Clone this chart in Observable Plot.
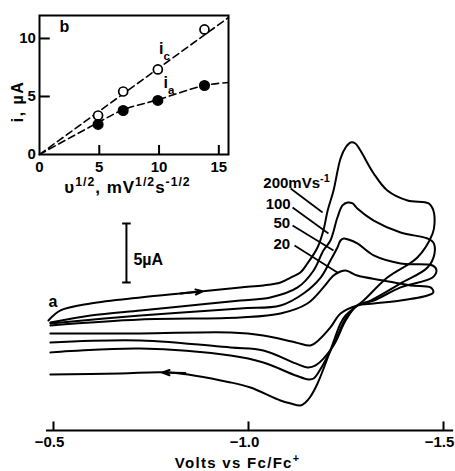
<!DOCTYPE html>
<html>
<head>
<meta charset="utf-8">
<script src="https://cdn.jsdelivr.net/npm/d3@7"></script>
<script src="https://cdn.jsdelivr.net/npm/@observablehq/plot@0.6"></script>
<style>
  html, body { margin: 0; padding: 0; background: white; }
  #wrap { position: relative; width: 455px; height: 471px; overflow: hidden; }
  #wrap svg { position: absolute; left: 0; top: 0; }
</style>
</head>
<body>
<div id="wrap"></div>
<script>
// ---------- DATA: cyclic voltammograms (potential V vs Fc/Fc+, current µA, arbitrary offset) ----------
const scanRates = ["20", "50", "100", "200mVs-1"];

const cv20 = [
  [-0.492,-0.42],[-0.723,0.08],[-0.979,0.25],[-1.082,0.59],[-1.151,1.44],[-1.192,2.80],
  [-1.218,3.81],[-1.236,4.15],[-1.249,4.24],[-1.262,4.07],[-1.279,3.81],[-1.346,3.39],
  [-1.415,2.97],[-1.467,2.80],[-1.474,2.37],[-1.459,2.12],[-1.390,1.69],[-1.321,1.44],
  [-1.279,1.27],[-1.236,0.59],[-1.210,-0.59],[-1.179,-1.69],[-1.159,-2.12],[-1.121,-1.86],
  [-1.038,-1.27],[-0.954,-1.02],[-0.723,-1.10],[-0.492,-1.10]
];
const cv50 = [
  [-0.492,-0.25],[-0.723,0.42],[-0.979,1.02],[-1.082,1.27],[-1.141,2.29],[-1.185,3.64],
  [-1.210,5.08],[-1.228,6.19],[-1.236,6.78],[-1.244,6.95],[-1.256,6.86],[-1.279,6.53],
  [-1.321,5.51],[-1.390,4.83],[-1.472,4.66],[-1.482,4.24],[-1.472,3.64],[-1.390,2.80],
  [-1.321,1.69],[-1.279,1.27],[-1.249,0.00],[-1.218,-2.12],[-1.172,-3.81],[-1.151,-3.98],
  [-1.121,-3.64],[-1.038,-2.54],[-0.954,-2.29],[-0.723,-1.69],[-0.492,-1.86]
];
const cv100 = [
  [-0.492,-0.17],[-0.595,0.42],[-0.723,0.85],[-0.851,1.27],[-0.979,1.69],[-1.056,1.95],
  [-1.126,2.80],[-1.167,4.24],[-1.192,5.93],[-1.210,6.78],[-1.228,8.73],[-1.241,9.75],
  [-1.254,10.00],[-1.267,9.92],[-1.279,9.49],[-1.321,8.47],[-1.390,7.46],[-1.459,6.95],
  [-1.474,6.61],[-1.477,5.68],[-1.459,4.49],[-1.390,3.14],[-1.313,1.69],[-1.279,1.27],
  [-1.249,0.17],[-1.223,-1.69],[-1.190,-3.81],[-1.167,-4.92],[-1.154,-5.00],[-1.121,-4.66],
  [-1.038,-3.56],[-0.954,-2.97],[-0.723,-2.37],[-0.492,-2.71]
];
const cv200 = [
  [-0.487,0.00],[-0.518,0.85],[-0.595,1.44],[-0.723,1.95],[-0.851,2.37],[-0.979,2.80],
  [-1.038,2.97],[-1.082,3.22],[-1.108,3.64],[-1.133,4.07],[-1.151,4.83],[-1.177,6.19],
  [-1.192,7.63],[-1.203,9.32],[-1.218,11.02],[-1.236,13.73],[-1.249,14.66],[-1.262,15.08],
  [-1.274,15.00],[-1.287,14.40],[-1.321,12.46],[-1.356,11.02],[-1.408,10.17],[-1.462,9.92],
  [-1.474,9.32],[-1.477,8.22],[-1.472,7.37],[-1.433,5.34],[-1.356,3.64],[-1.295,1.69],
  [-1.279,1.27],[-1.249,0.42],[-1.236,-0.25],[-1.210,-2.54],[-1.177,-5.34],[-1.159,-6.44],
  [-1.146,-6.95],[-1.133,-7.20],[-1.108,-7.03],[-1.082,-6.78],[-1.005,-5.68],[-0.954,-5.25],
  [-0.800,-4.41],[-0.672,-4.49],[-0.492,-4.58]
];

// main axis
const xTicks = [-0.5, -1.0, -1.5];
const xTickLabels = ["\u22120.5", "\u22121.0", "\u22121.5"];
const xTitle = "Volts vs Fc/Fc+";

// annotations (data units)
const labelE = [-1.064, -1.064, -1.044, -1.038];
const labelI = [6.10, 7.80, 9.49, 11.27];
const leaderStart = [[-1.118, 6.36], [-1.113, 8.05], [-1.113, 9.58], [-1.108, 11.19]];
const leaderEnd = [[-1.228, 4.07], [-1.218, 5.93], [-1.205, 7.37], [-1.190, 9.15]];
const arrowStart = [[-0.826, 2.29], [-0.838, -4.45]];
const arrowEnd = [[-0.882, 2.47], [-0.779, -4.41]];
const scaleBarE = -0.687, scaleBarLow = 3.22, scaleBarHigh = 8.22; // 5 µA
const scaleBarLabel = "5\u00b5A";

// inset (b): peak currents vs sqrt(scan rate)
const sqrtRate = [4.9, 7.0, 9.9, 13.8];
const iCathodic = [3.36, 5.43, 7.33, 10.78];
const iAnodic = [2.59, 3.79, 4.66, 5.95];
const icTrend = [[0, 0], [15.8, 11.8]];
const iaTrend = [[0, 0], [4.9, 2.75], [7.0, 3.85], [9.9, 4.72], [13.8, 5.95], [15.8, 6.2]];
const insetXTicks = [0, 5, 10, 15];
const insetYTicks = [0, 5, 10];
const insetXLabel = "\u03c51/2, mV1/2s-1/2";
const insetYLabel = "i, \u00b5A";

// ---------- DRAW ----------
const FONT = "'Liberation Sans', Arial, Helvetica, sans-serif";
const SW = 2;
const curves = [cv20, cv50, cv100, cv200];

const main = Plot.plot({
  width: 455, height: 471,
  marginLeft: 53, marginRight: 12, marginTop: 0, marginBottom: 0,
  x: {domain: [-0.5, -1.5], axis: null},
  y: {domain: [-12.8, 27.12], axis: null},
  style: {fontFamily: FONT, background: "white"},
  marks: [
    ...curves.map(c => Plot.line(c, {x: d => d[0], y: d => d[1], curve: "catmull-rom", stroke: "black", strokeWidth: SW})),
    Plot.link(leaderStart, {x1: d => d[0], y1: d => d[1], x2: (d, i) => leaderEnd[i][0], y2: (d, i) => leaderEnd[i][1], stroke: "black", strokeWidth: 1.7}),
    Plot.text(scanRates, {x: (d, i) => labelE[i], y: (d, i) => labelI[i], text: d => d, textAnchor: "start", lineAnchor: "bottom", fontSize: 15, fontWeight: "bold"}),
    Plot.arrow(arrowStart, {x1: d => d[0], y1: d => d[1], x2: (d, i) => arrowEnd[i][0], y2: (d, i) => arrowEnd[i][1], headLength: 13, headAngle: 40, stroke: "black", strokeWidth: SW}),
    Plot.text(["a"], {x: -0.487, y: 1.10, text: d => d, textAnchor: "start", lineAnchor: "bottom", fontSize: 16, fontWeight: "bold"}),
    // scale bar
    Plot.ruleX([scaleBarE], {y1: () => scaleBarLow, y2: () => scaleBarHigh, stroke: "black", strokeWidth: SW}),
    Plot.link([scaleBarLow, scaleBarHigh], {x1: () => scaleBarE + 0.011, x2: () => scaleBarE - 0.011, y1: d => d, y2: d => d, stroke: "black", strokeWidth: SW}),
    Plot.text([scaleBarLabel], {x: () => scaleBarE - 0.018, y: () => 4.66, text: d => d, textAnchor: "start", lineAnchor: "bottom", fontSize: 16, fontWeight: "bold"}),
    // bottom axis
    Plot.ruleY([-9.32], {x1: () => -0.482, x2: () => -1.526, stroke: "black", strokeWidth: SW}),
    Plot.ruleX(xTicks, {y1: () => -9.32, y2: () => -8.6, stroke: "black", strokeWidth: SW}),
    Plot.text(xTicks, {x: d => d, y: () => -10.76, text: (d, i) => xTickLabels[i], dx: -4, lineAnchor: "bottom", fontSize: 15, fontWeight: "bold"}),
    Plot.text([xTitle], {x: () => -0.972, y: () => -12.54, text: d => d, lineAnchor: "bottom", fontSize: 15, fontWeight: "bold"})
  ]
});

const inset = Plot.plot({
  width: 240, height: 200,
  marginLeft: 39, marginRight: 12, marginTop: 15, marginBottom: 46,
  x: {domain: [0, 15.81], axis: null},
  y: {domain: [0, 11.98], axis: null},
  style: {fontFamily: FONT, background: "transparent", overflow: "visible"},
  marks: [
    Plot.frame({stroke: "black", strokeWidth: SW}),
    Plot.ruleX(insetXTicks.slice(1), {y1: () => 0, y2: () => 0.78, stroke: "black", strokeWidth: SW}),
    Plot.ruleY(insetYTicks.slice(1), {x1: () => 0, x2: () => 0.9, stroke: "black", strokeWidth: SW}),
    Plot.line(icTrend, {x: d => d[0], y: d => d[1], stroke: "black", strokeWidth: 1.6, strokeDasharray: "7,4"}),
    Plot.line(iaTrend, {x: d => d[0], y: d => d[1], curve: "catmull-rom", stroke: "black", strokeWidth: 1.6, strokeDasharray: "7,4"}),
    Plot.dot(sqrtRate, {x: d => d, y: (d, i) => iCathodic[i], r: 4.5, fill: "white", stroke: "black", strokeWidth: 1.7}),
    Plot.dot(sqrtRate, {x: d => d, y: (d, i) => iAnodic[i], r: 4.8, fill: "black", stroke: "black"}),
    Plot.text(insetXTicks, {x: d => d, y: () => -1.55, text: d => String(d), lineAnchor: "bottom", fontSize: 15, fontWeight: "bold"}),
    Plot.text(insetYTicks, {x: () => -0.3, y: d => d, text: d => String(d), textAnchor: "end", lineAnchor: "middle", fontSize: 15, fontWeight: "bold"}),
    Plot.text(["b"], {x: () => 1.67, y: () => 10.52, text: d => d, textAnchor: "start", lineAnchor: "bottom", fontSize: 16, fontWeight: "bold"}),
    Plot.text(["ic"], {x: () => 10.0, y: () => 8.62, text: d => d, textAnchor: "start", lineAnchor: "bottom", fontSize: 16, fontWeight: "bold"}),
    Plot.text(["ia"], {x: () => 10.38, y: () => 5.75, text: d => d, textAnchor: "start", lineAnchor: "bottom", fontSize: 16, fontWeight: "bold"}),
    Plot.text([insetXLabel], {x: () => 7.36, y: () => -3.36, text: d => d, lineAnchor: "bottom", fontSize: 17, fontWeight: "bold"}),
    Plot.text([insetYLabel], {x: () => -1.84, y: () => 4.57, text: d => d, rotate: -90, lineAnchor: "middle", fontSize: 16, fontWeight: "bold"})
  ]
});

// rich text (superscripts / subscripts)
const rich = {
  "200mVs-1": [["200mVs"], ["-1", "super"]],
  "Volts vs Fc/Fc+": [["Volts vs Fc/Fc"], ["+", "super"]],
  "ic": [["i"], ["c", "sub"]],
  "ia": [["i"], ["a", "sub"]]
};
rich[insetXLabel] = [["\u03c5"], ["1/2", "super"], [", mV"], ["1/2", "super"], ["s"], ["-1/2", "super"]];
const spacing = {"Volts vs Fc/Fc+": 1.3};
spacing[insetXLabel] = 1.0;
spacing[insetYLabel] = 1.5;

function applyRich(svg) {
  d3.select(svg).selectAll("text").each(function () {
    const key = this.textContent;
    const sel = d3.select(this);
    if (spacing[key] != null) sel.attr("letter-spacing", spacing[key]);
    if (rich[key]) {
      sel.text(null);
      for (const [s, kind] of rich[key]) {
        const ts = sel.append("tspan").text(s);
        if (kind) ts.attr("baseline-shift", kind).attr("font-size", "72%");
      }
    }
  });
}
applyRich(main);
applyRich(inset);

const wrap = document.getElementById("wrap");
wrap.appendChild(main);
wrap.appendChild(inset);
</script>
</body>
</html>
